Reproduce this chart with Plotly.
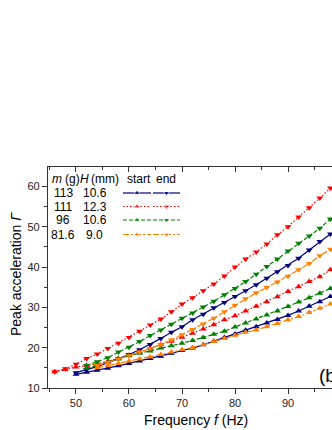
import plotly.graph_objects as go

# frequencies (Hz)
f_red = [46, 48, 50, 52, 54, 56, 58, 60, 62, 64, 66, 68, 70, 72, 74, 76, 78, 80, 82, 84, 86, 88, 90, 92, 94, 96, 98]
f_blue = [50, 52, 54, 56, 58, 60, 62, 64, 66, 68, 70, 72, 74, 76, 78, 80, 82, 84, 86, 88, 90, 92, 94, 96, 98]
f_green = [52, 54, 56, 58, 60, 62, 64, 66, 68, 70, 72, 74, 76, 78, 80, 82, 84, 86, 88, 90, 92, 94, 96, 98]
f_orange = [54, 56, 58, 60, 62, 64, 66, 68, 70, 72, 74, 76, 78, 80, 82, 84, 86, 88, 90, 92, 94, 96, 98]

# peak acceleration, start / end
blue_start = [13.4, 13.9, 14.4, 14.9, 15.5, 16.1, 16.7, 17.3, 17.9, 18.6, 19.3, 19.9, 20.7, 21.6, 22.5,
              23.4, 24.3, 25.2, 26.1, 27.0, 28.0, 29.1, 30.3, 31.4, 32.7]
blue_end = [13.8, 14.5, 15.3, 16.3, 17.3, 18.3, 19.5, 20.8, 22.3, 23.8, 25.2, 26.9, 28.3, 29.9, 31.2,
            32.7, 34.1, 35.6, 37.2, 38.8, 40.4, 42.2, 44.2, 46.3, 48.2]
red_start = [14.0, 14.6, 15.2, 15.6, 16.0, 16.6, 17.3, 18.1, 18.9, 19.8, 20.7, 21.6, 22.6, 23.6, 24.6,
             25.7, 26.9, 27.9, 29.1, 30.3, 31.4, 32.6, 33.9, 35.1, 36.4, 37.6, 39.3]
red_end = [14.0, 14.8, 15.9, 17.3, 18.4, 19.8, 21.1, 22.5, 24.1, 25.6, 27.1, 28.9, 30.8, 32.4, 34.1,
           35.8, 37.8, 40.0, 42.0, 43.7, 45.7, 48.0, 50.0, 52.4, 54.7, 57.1, 59.6]
green_start = [14.9, 15.6, 16.4, 17.2, 18.0, 18.6, 19.2, 19.9, 20.5, 21.1, 21.8, 22.5, 23.3, 24.1,
               25.1, 26.1, 27.1, 28.1, 29.1, 30.2, 31.3, 32.4, 33.5, 34.7]
green_end = [15.6, 16.5, 17.5, 18.9, 20.1, 21.5, 23.0, 24.4, 25.8, 27.3, 28.6, 30.1, 31.5, 33.1,
             34.7, 36.4, 38.2, 40.1, 42.0, 44.0, 45.9, 47.7, 49.6, 51.9]
orange_start = [15.0, 15.5, 16.1, 16.7, 17.2, 17.7, 18.3, 18.9, 19.5, 20.0, 20.7, 21.5, 22.3, 23.1,
                23.8, 24.4, 25.2, 26.0, 26.9, 27.7, 28.7, 29.8, 30.8]
orange_end = [15.6, 16.3, 17.2, 18.0, 18.9, 19.8, 20.8, 21.9, 23.2, 24.5, 25.9, 27.3, 28.9, 30.5,
              32.1, 33.6, 34.9, 36.3, 37.7, 39.3, 40.9, 42.8, 44.4]

mass = ['113', '111', '96', '81.6']
height = ['10.6', '12.3', '10.6', '9.0']

FONT = 'Arial, Liberation Sans, sans-serif'
W, H = 332, 430
L, T, B = 48, 167, 42

series = [
    (f_blue, blue_start, blue_end, '#000080', 'solid'),
    (f_red, red_start, red_end, '#ff0000', '1.5px,2px'),
    (f_green, green_start, green_end, '#008000', '4px,2px'),
    (f_orange, orange_start, orange_end, '#ff8000', '6px,2px,2px,2px'),
]

fig = go.Figure()

for fx, ys, ye, col, dash in series:
    fig.add_trace(go.Scatter(x=fx, y=ys, mode='lines+markers',
                             line=dict(color=col, width=1.2, dash=dash),
                             marker=dict(symbol='triangle-up', size=6, color=col)))
    fig.add_trace(go.Scatter(x=fx, y=ye, mode='lines+markers',
                             line=dict(color=col, width=1.2, dash=dash),
                             marker=dict(symbol='triangle-down', size=6, color=col)))

# legend table drawn on a hidden pixel-space axis pair
row_y = [193, 206.5, 220, 234.5]
for i, (fx, ys, ye, col, dash) in enumerate(series):
    ry = row_y[i]
    for xs, sym in (([123, 137, 151], 'triangle-up'), ([153, 166.5, 180], 'triangle-down')):
        fig.add_trace(go.Scatter(x=xs, y=[ry, ry, ry], mode='lines+markers', xaxis='x3', yaxis='y3',
                                 line=dict(color=col, width=1.2, dash=dash),
                                 marker=dict(symbol=sym, size=[0, 6, 0], color=col)))
    fig.add_annotation(x=63, y=ry, xref='x3', yref='y3', text=mass[i], showarrow=False, borderpad=0,
                       font=dict(size=12, color='black', family=FONT), xanchor='center', yanchor='middle')
    fig.add_annotation(x=94.5, y=ry, xref='x3', yref='y3', text=height[i], showarrow=False, borderpad=0,
                       font=dict(size=12, color='black', family=FONT), xanchor='center', yanchor='middle')

hdr = [(51, '<i>m</i>'), (64, '(g)'), (79, '<i>H</i>'), (89.5, '(mm)'), (126, 'start'), (155, 'end')]
for hx, ht in hdr:
    fig.add_annotation(x=hx, y=178.5, xref='x3', yref='y3', text=ht, showarrow=False, borderpad=0,
                       font=dict(size=12, color='black', family=FONT), xanchor='left', yanchor='middle')

# axis titles and panel label
fig.add_annotation(x=(196 - L) / (W - L), y=(H - B - 420) / (H - T - B), xref='paper', yref='paper',
                   text='Frequency <i>f</i> (Hz)', showarrow=False,
                   font=dict(size=14, color='black', family=FONT), xanchor='center', yanchor='middle')
fig.add_annotation(x=(16 - L) / (W - L), y=(H - B - 274) / (H - T - B), xref='paper', yref='paper',
                   text='Peak acceleration <i>Γ</i>', showarrow=False, textangle=-90,
                   font=dict(size=14, color='black', family=FONT), xanchor='center', yanchor='middle')
fig.add_annotation(x=(318 - L) / (W - L), y=(H - B - 375) / (H - T - B), xref='paper', yref='paper',
                   text='(b)', showarrow=False, borderpad=0,
                   font=dict(size=19, color='black', family=FONT), xanchor='left', yanchor='middle')

xr = [44.72, 98.3]
axcol = '#333333'
fig.update_layout(
    width=W, height=H,
    margin=dict(l=L, r=0, t=T, b=B, pad=0),
    paper_bgcolor='white', plot_bgcolor='white',
    showlegend=False,
    font=dict(family=FONT, size=11, color='#222222'),
    xaxis=dict(range=xr, showgrid=False, zeroline=False, showline=True, linecolor=axcol, linewidth=1.3,
               ticks='outside', ticklen=5, tickwidth=1, tickcolor=axcol, dtick=10, tick0=0,
               minor=dict(ticks='outside', ticklen=3, dtick=5, tick0=0, tickcolor=axcol, showgrid=False),
               tickfont=dict(size=11)),
    xaxis2=dict(range=xr, overlaying='x', side='top', anchor='y', showgrid=False, zeroline=False,
                showline=True, linecolor=axcol, linewidth=1.3, showticklabels=False,
                ticks='inside', ticklen=5, tickwidth=1, tickcolor=axcol, dtick=10, tick0=0,
                minor=dict(ticks='inside', ticklen=3, dtick=5, tick0=0, tickcolor=axcol, showgrid=False)),
    yaxis=dict(range=[10, 64.8], showgrid=False, zeroline=False, showline=True, linecolor=axcol,
               linewidth=1.3, ticks='outside', ticklen=5, tickwidth=1, tickcolor=axcol, dtick=10, tick0=0,
               minor=dict(ticks='outside', ticklen=3, dtick=5, tick0=0, tickcolor=axcol, showgrid=False),
               tickfont=dict(size=11)),
    xaxis3=dict(range=[L, W], overlaying='x', anchor='y3', visible=False),
    yaxis3=dict(range=[H - B, T], overlaying='y', anchor='x3', visible=False),
)
# dummy trace so the top axis gets drawn
fig.add_trace(go.Scatter(x=[None], y=[None], xaxis='x2', yaxis='y'))

# drop the browser's default body margin so the figure sits at the page corner
fig.write_html("out.html", config={'displayModeBar': False},
               post_script="document.body.style.margin='0';")
